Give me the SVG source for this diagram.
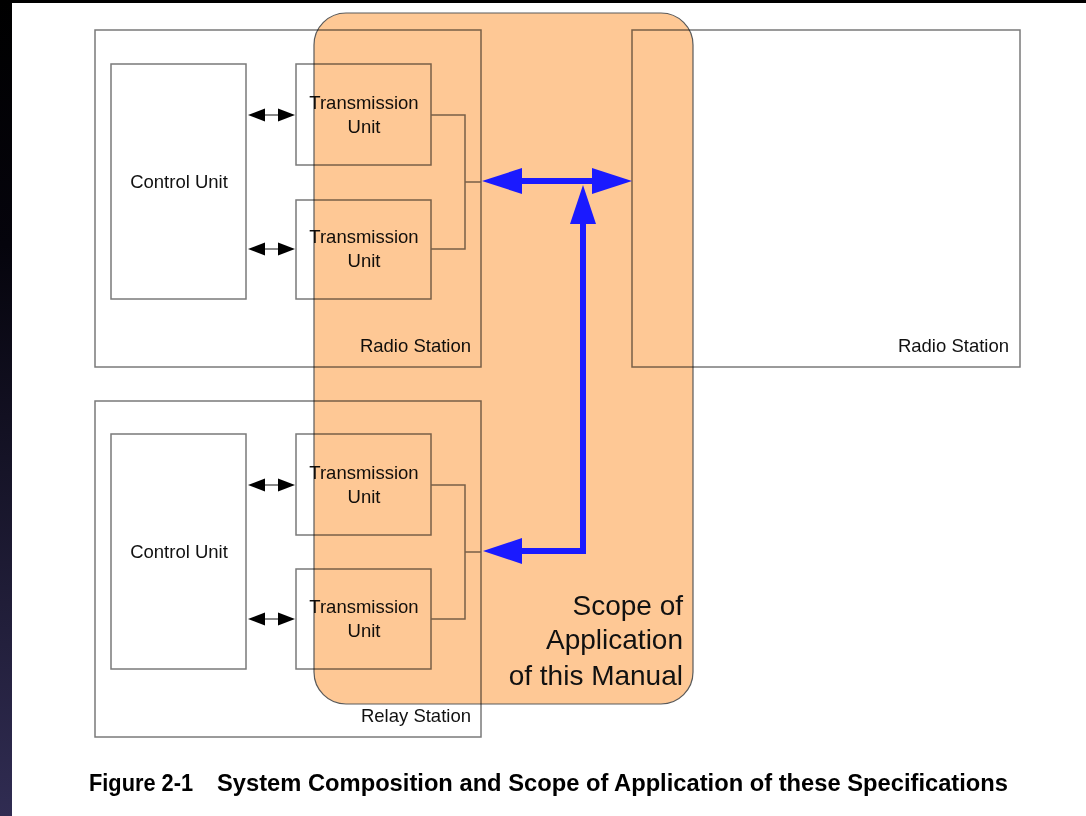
<svg xmlns="http://www.w3.org/2000/svg" width="1086" height="816" viewBox="0 0 1086 816">
  <defs>
    <linearGradient id="edge" x1="0" y1="0" x2="0" y2="1">
      <stop offset="0" stop-color="#000000"/>
      <stop offset="0.3" stop-color="#05040c"/>
      <stop offset="1" stop-color="#302c52"/>
    </linearGradient>
    <style>
      .box { fill: none; stroke: #7a7a7a; stroke-width: 1.5; }
      .ln { fill: none; stroke: #7a7a7a; stroke-width: 1.5; }
      .t { font-family: "Liberation Sans", Arial, sans-serif; font-size: 18.5px; fill: #111; }
      .c { text-anchor: middle; }
      .r { text-anchor: end; }
      .sl { stroke: #888; stroke-width: 2; }
      .sh { fill: #000; }
      .blue { stroke: #1a1aff; stroke-width: 6; fill: none; stroke-linejoin: miter; }
      .bh { fill: #1a1aff; }
      .cap { font-family: "Liberation Sans", Arial, sans-serif; font-size: 23px; font-weight: bold; fill: #000; }
    </style>
  </defs>

  <!-- page and frame -->
  <rect x="0" y="0" width="1086" height="816" fill="#ffffff"/>
  <rect x="0" y="0" width="1086" height="3" fill="#000"/>
  <rect x="0" y="0" width="12" height="816" fill="url(#edge)"/>

  <!-- upper radio station -->
  <g id="radio-station-1">
    <rect class="box" x="95" y="30" width="386" height="337"/>
    <text class="t r" x="471" y="352">Radio Station</text>
  </g>
  <g id="control-unit-1">
    <rect class="box" x="111" y="64" width="135" height="235"/>
    <text class="t c" x="179" y="188">Control Unit</text>
  </g>
  <g id="tx-unit-1">
    <rect class="box" x="296" y="64" width="135" height="101"/>
    <text class="t c" x="364" y="109">Transmission</text>
    <text class="t c" x="364" y="133">Unit</text>
  </g>
  <g id="tx-unit-2">
    <rect class="box" x="296" y="200" width="135" height="99"/>
    <text class="t c" x="364" y="243">Transmission</text>
    <text class="t c" x="364" y="267">Unit</text>
  </g>

  <!-- remote radio station -->
  <g id="radio-station-2">
    <rect class="box" x="632" y="30" width="388" height="337"/>
    <text class="t r" x="1009" y="352">Radio Station</text>
  </g>

  <!-- relay station -->
  <g id="relay-station">
    <rect class="box" x="95" y="401" width="386" height="336"/>
    <text class="t r" x="471" y="722">Relay Station</text>
  </g>
  <g id="control-unit-2">
    <rect class="box" x="111" y="434" width="135" height="235"/>
    <text class="t c" x="179" y="558">Control Unit</text>
  </g>
  <g id="tx-unit-3">
    <rect class="box" x="296" y="434" width="135" height="101"/>
    <text class="t c" x="364" y="479">Transmission</text>
    <text class="t c" x="364" y="503">Unit</text>
  </g>
  <g id="tx-unit-4">
    <rect class="box" x="296" y="569" width="135" height="100"/>
    <text class="t c" x="364" y="613">Transmission</text>
    <text class="t c" x="364" y="637">Unit</text>
  </g>

  <!-- internal wiring and control links -->
  <g id="wiring">
    <path class="ln" d="M431,115 H465 V249 H431 M465,182 H481"/>
    <path class="ln" d="M431,485 H465 V619 H431 M465,552 H481"/>
    <g id="link-1">
      <line class="sl" x1="262" y1="115" x2="280" y2="115"/>
      <polygon class="sh" points="248,115 265,108.5 265,121.5"/>
      <polygon class="sh" points="295,115 278,108.5 278,121.5"/>
    </g>
    <g id="link-2">
      <line class="sl" x1="262" y1="249" x2="280" y2="249"/>
      <polygon class="sh" points="248,249 265,242.5 265,255.5"/>
      <polygon class="sh" points="295,249 278,242.5 278,255.5"/>
    </g>
    <g id="link-3">
      <line class="sl" x1="262" y1="485" x2="280" y2="485"/>
      <polygon class="sh" points="248,485 265,478.5 265,491.5"/>
      <polygon class="sh" points="295,485 278,478.5 278,491.5"/>
    </g>
    <g id="link-4">
      <line class="sl" x1="262" y1="619" x2="280" y2="619"/>
      <polygon class="sh" points="248,619 265,612.5 265,625.5"/>
      <polygon class="sh" points="295,619 278,612.5 278,625.5"/>
    </g>
  </g>

  <!-- scope of application overlay -->
  <g id="scope">
    <rect x="314" y="13" width="379" height="691" rx="32" ry="32" fill="#fec895" stroke="#5a5a5a" stroke-width="1.2" style="mix-blend-mode: multiply"/>
    <text class="t r" x="683" y="615" style="font-size:28px">Scope of</text>
    <text class="t r" x="683" y="649" style="font-size:28px">Application</text>
    <text class="t r" x="683" y="685" style="font-size:28px">of this Manual</text>
  </g>

  <!-- radio links -->
  <g id="connectors">
    <line class="blue" x1="515" y1="181" x2="598" y2="181"/>
    <polygon class="bh" points="482,181 522,168 522,194"/>
    <polygon class="bh" points="632,181 592,168 592,194"/>
    <path class="blue" d="M583,218 V551 H515"/>
    <polygon class="bh" points="583,185 570,224 596,224"/>
    <polygon class="bh" points="483,551 522,538 522,564"/>
  </g>

  <!-- caption -->
  <text class="cap" x="89" y="791" textLength="104" lengthAdjust="spacingAndGlyphs">Figure 2-1</text>
  <text class="cap" x="217" y="791" textLength="791" lengthAdjust="spacingAndGlyphs">System Composition and Scope of Application of these Specifications</text>
</svg>
